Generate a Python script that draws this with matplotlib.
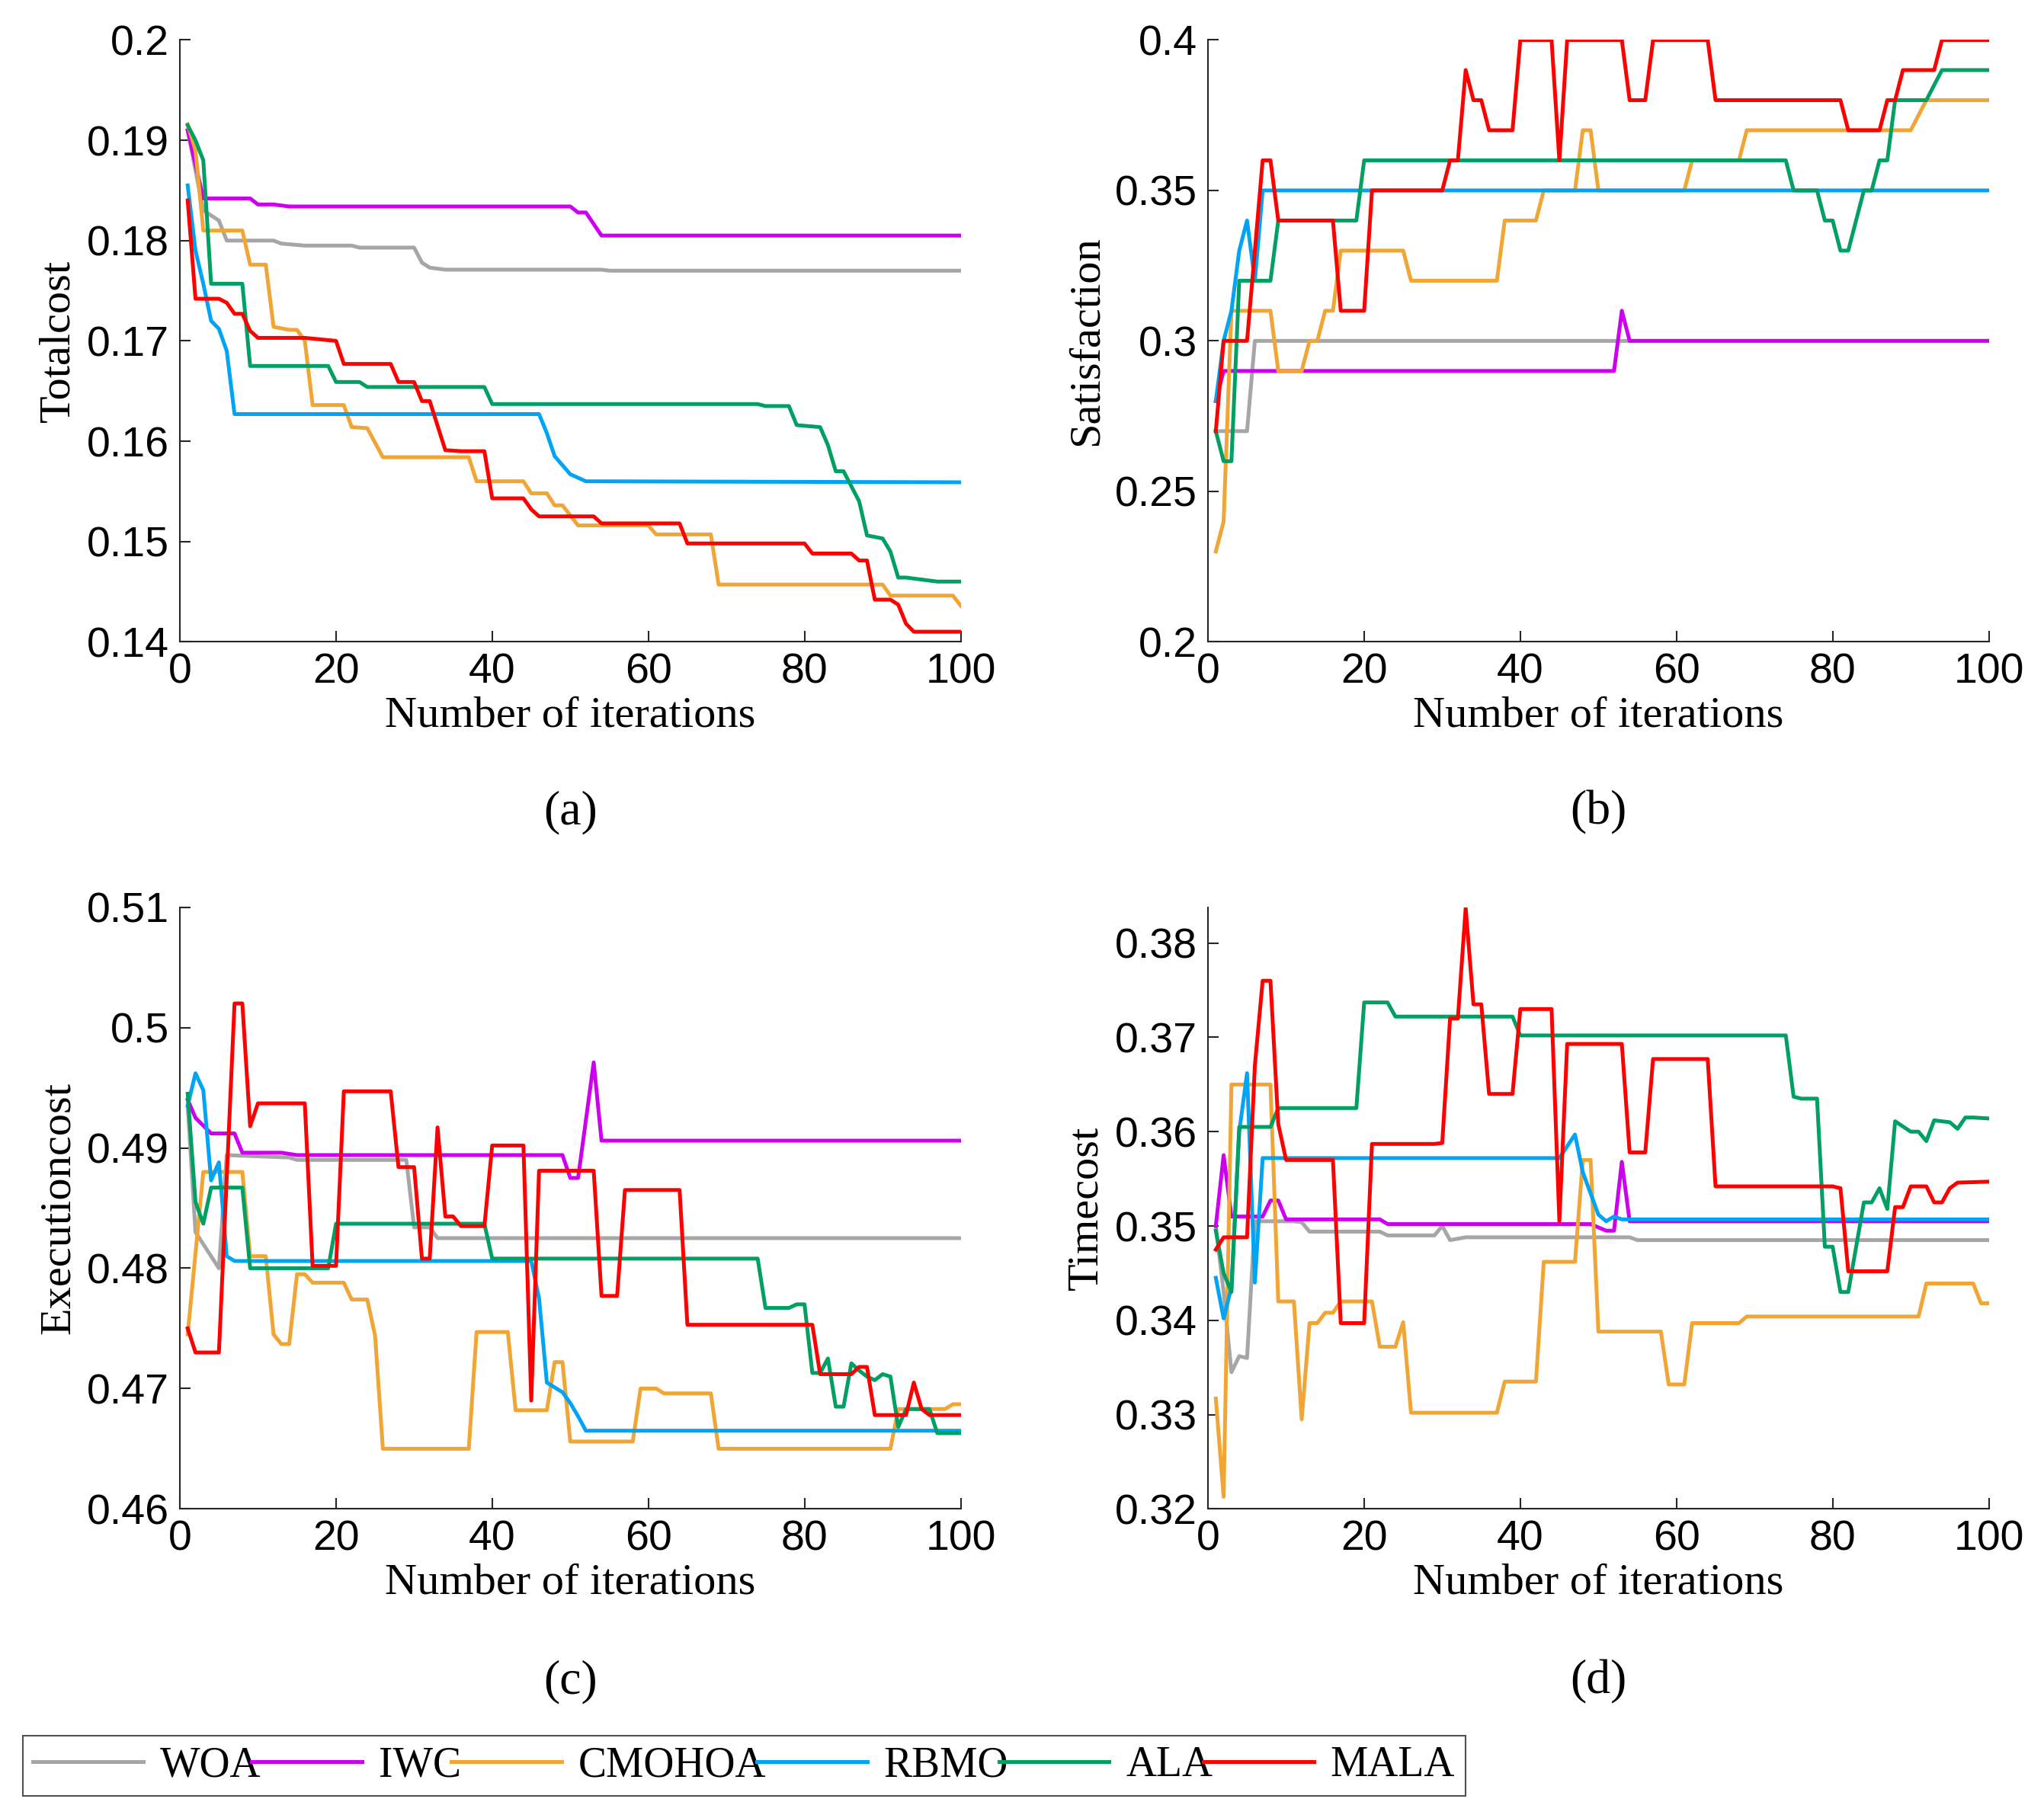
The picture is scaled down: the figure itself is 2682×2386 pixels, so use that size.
import matplotlib
matplotlib.use("Agg")
import matplotlib.pyplot as plt

names = ["WOA", "IWC", "CMOHOA", "RBMO", "ALA", "MALA"]
colors = ["#a6a6a8", "#cc00ee", "#f0a535", "#00a4f4", "#00a064", "#ff0000"]

# breakpoints (iteration, value)
cost = {
    "WOA": [(1, .191), (3, .183), (5, .182), (6, .180), (12, .180), (13, .1797), (16, .1795), (22, .1795), (23, .1793),
            (30, .1793), (31, .1778), (32, .1773), (34, .1771), (54, .1771), (55, .1770), (100, .1770)],
    "IWC": [(1, .191), (3, .1842), (9, .1842), (10, .1836), (12, .1836), (14, .1834), (50, .1834), (51, .1828),
            (52, .1828), (54, .1805), (100, .1805)],
    "CMOHOA": [(1, .1916), (2, .189), (3, .181), (8, .181), (9, .1776), (11, .1776), (12, .1714), (14, .1711),
               (15, .1711), (16, .1700), (17, .1636), (21, .1636), (22, .1614), (24, .1613), (26, .1584), (37, .1584),
               (38, .1560), (44, .1560), (45, .1548), (47, .1548), (48, .1536), (49, .1536), (51, .1516), (60, .1516),
               (61, .1507), (68, .1507), (69, .1457), (90, .1457), (91, .1446), (99, .1446), (100, .1436)],
    "RBMO": [(1, .1855), (2, .179), (3, .1757), (4, .172), (5, .1712), (6, .169), (7, .1627), (46, .1627),
             (47, .1608), (48, .1585), (50, .1567), (52, .1560), (100, .1559)],
    "ALA": [(1, .1915), (2, .190), (3, .188), (4, .1757), (8, .1757), (9, .1675), (19, .1675), (20, .1659),
            (23, .1659), (24, .1654), (39, .1654), (40, .1637), (74, .1637), (75, .1635), (78, .1635), (79, .1616),
            (82, .1614), (83, .1596), (84, .1570), (85, .1570), (87, .1540), (88, .1506), (90, .1503), (91, .1490),
            (92, .1464), (93, .1464), (97, .1460), (100, .1460)],
    "MALA": [(1, .184), (2, .1742), (5, .1742), (6, .1738), (7, .1727), (8, .1727), (9, .1710), (10, .1703),
             (16, .1703), (20, .1700), (21, .1677), (27, .1677), (28, .1659), (30, .1659), (31, .1640), (32, .1640),
             (34, .1591), (36, .1590), (39, .1590), (40, .1543), (44, .1543), (45, .1532), (46, .1525), (53, .1525),
             (54, .1518), (64, .1518), (65, .1498), (80, .1498), (81, .1488), (86, .1488), (87, .1481), (88, .1481),
             (89, .1442), (91, .1442), (92, .1437), (93, .1418), (94, .1410), (100, .1410)],
}

satisfaction = {
    "WOA": [(1, .27), (5, .27), (6, .30), (100, .30)],
    "IWC": [(1, .28), (2, .29), (52, .29), (53, .31), (54, .30), (100, .30)],
    "CMOHOA": [(1, .23), (2, .24), (3, .31), (8, .31), (9, .29), (12, .29), (13, .30), (14, .30), (15, .31),
               (16, .31), (17, .33), (25, .33), (26, .32), (37, .32), (38, .34), (42, .34), (43, .35), (47, .35),
               (48, .37), (49, .37), (50, .35), (61, .35), (62, .36), (68, .36), (69, .37), (90, .37), (92, .38),
               (100, .38)],
    "RBMO": [(1, .28), (2, .30), (3, .31), (4, .33), (5, .34), (6, .32), (7, .35), (100, .35)],
    "ALA": [(1, .27), (2, .26), (3, .26), (4, .32), (8, .32), (9, .34), (19, .34), (20, .36), (74, .36), (75, .35),
            (78, .35), (79, .34), (80, .34), (81, .33), (82, .33), (84, .35), (85, .35), (86, .36), (87, .36),
            (88, .38), (92, .38), (94, .39), (100, .39)],
    "MALA": [(1, .27), (2, .30), (5, .30), (7, .36), (8, .36), (9, .34), (16, .34), (17, .31), (20, .31), (21, .35),
             (30, .35), (31, .36), (32, .36), (33, .39), (34, .38), (35, .38), (36, .37), (39, .37), (40, .40),
             (44, .40), (45, .36), (46, .40), (53, .40), (54, .38), (56, .38), (57, .40), (64, .40), (65, .38),
             (81, .38), (82, .37), (86, .37), (87, .38), (88, .38), (89, .39), (93, .39), (94, .40), (100, .40)],
}

execution = {
    "WOA": [(1, .4935), (2, .483), (3, .482), (5, .4800), (6, .4894), (14, .4892), (15, .4890), (29, .4890),
            (30, .4834), (32, .4834), (33, .4825), (100, .4825)],
    "IWC": [(1, .494), (2, .4925), (4, .4912), (7, .4912), (8, .4896), (13, .4896), (15, .4894), (49, .4894),
            (50, .4875), (51, .4875), (53, .4971), (54, .4906), (100, .4906)],
    "CMOHOA": [(1, .4745), (3, .488), (8, .488), (9, .481), (11, .481), (12, .4745), (13, .4737), (14, .4737),
               (15, .4795), (16, .4795), (17, .4788), (21, .4788), (22, .4774), (24, .4774), (25, .4744),
               (26, .4650), (37, .4650), (38, .4747), (42, .4747), (43, .4682), (47, .4682), (48, .4722),
               (49, .4722), (50, .4656), (58, .4656), (59, .4700), (61, .4700), (62, .4696), (68, .4696),
               (69, .4650), (91, .4650), (92, .4683), (98, .4683), (99, .4687), (100, .4687)],
    "RBMO": [(1, .4935), (2, .4962), (3, .4948), (4, .4873), (5, .4888), (6, .4810), (7, .4806), (45, .4806),
             (46, .4775), (47, .4705), (49, .4697), (50, .4688), (51, .4677), (52, .4665), (100, .4665)],
    "ALA": [(1, .4945), (2, .4855), (3, .4837), (4, .4867), (8, .4867), (9, .4800), (19, .4800), (20, .4837),
            (39, .4837), (40, .4808), (74, .4808), (75, .4767), (78, .4767), (79, .4770), (80, .4770), (81, .4713),
            (82, .4713), (83, .4725), (84, .4685), (85, .4685), (86, .4721), (87, .4715), (88, .4710), (89, .4707),
            (90, .4712), (91, .4710), (92, .4668), (93, .4683), (96, .4683), (97, .4663), (100, .4663)],
    "MALA": [(1, .4750), (2, .4730), (5, .4730), (7, .5020), (8, .5020), (9, .4918), (10, .4937), (16, .4937),
             (17, .4802), (20, .4802), (21, .4947), (27, .4947), (28, .4884), (30, .4884), (31, .4808), (32, .4808),
             (33, .4917), (34, .4843), (35, .4843), (36, .4835), (39, .4835), (40, .4902), (44, .4902), (45, .4690),
             (46, .4881), (53, .4881), (54, .4777), (56, .4777), (57, .4865), (64, .4865), (65, .4753), (81, .4753),
             (82, .4712), (86, .4712), (87, .4718), (88, .4718), (89, .4678), (93, .4678), (94, .4705), (95, .4683),
             (96, .4678), (100, .4678)],
}

timecost = {
    "WOA": [(1, .350), (2, .343), (3, .3345), (4, .3362), (5, .3360), (6, .3505), (11, .3505), (12, .3504),
            (13, .3494), (22, .3494), (23, .3490), (29, .3490), (30, .3500), (31, .3485), (33, .3488), (54, .3488),
            (55, .3485), (100, .3485)],
    "IWC": [(1, .3500), (2, .3575), (3, .3510), (7, .3510), (8, .3527), (9, .3527), (10, .3507), (22, .3507),
            (23, .3502), (49, .3502), (51, .3495), (52, .3495), (53, .3568), (54, .3505), (100, .3505)],
    "CMOHOA": [(1, .3317), (2, .3213), (3, .3650), (8, .3650), (9, .3420), (11, .3420), (12, .3295), (13, .3397),
               (14, .3397), (15, .3408), (16, .3408), (17, .3420), (21, .3420), (22, .3372), (24, .3372),
               (25, .3398), (26, .3302), (37, .3302), (38, .3335), (42, .3335), (43, .3462), (47, .3462),
               (48, .3570), (49, .3570), (50, .3388), (58, .3388), (59, .3332), (61, .3332), (62, .3397),
               (68, .3397), (69, .3404), (91, .3404), (92, .3439), (98, .3439), (99, .3418), (100, .3418)],
    "RBMO": [(1, .3445), (2, .3402), (3, .3435), (4, .3600), (5, .3662), (6, .3440), (7, .3572), (45, .3572),
             (47, .3597), (48, .3557), (50, .3512), (51, .3505), (52, .3510), (53, .3507), (100, .3507)],
    "ALA": [(1, .3495), (2, .3450), (3, .3430), (4, .3605), (8, .3605), (9, .3625), (19, .3625), (20, .3737),
            (23, .3737), (24, .3722), (39, .3722), (40, .3702), (74, .3702), (75, .3637), (76, .3635), (78, .3635),
            (79, .3478), (80, .3478), (81, .3430), (82, .3430), (84, .3525), (85, .3525), (86, .3540), (87, .3518),
            (88, .3611), (90, .3600), (91, .3600), (92, .3590), (93, .3612), (95, .3610), (96, .3603), (97, .3615),
            (98, .3615), (100, .3614)],
    "MALA": [(1, .3475), (2, .3488), (5, .3488), (6, .3670), (7, .3760), (8, .3760), (9, .3608), (10, .3570),
             (16, .3570), (17, .3397), (20, .3397), (21, .3587), (29, .3587), (30, .3588), (31, .3720), (32, .3720),
             (33, .3837), (34, .3735), (35, .3735), (36, .3640), (39, .3640), (40, .3730), (44, .3730), (45, .3505),
             (46, .3693), (53, .3693), (54, .3578), (56, .3578), (57, .3677), (64, .3677), (65, .3542), (80, .3542),
             (81, .3540), (82, .3452), (87, .3452), (88, .3520), (89, .3520), (90, .3542), (92, .3542), (93, .3525),
             (94, .3525), (95, .3540), (96, .3546), (100, .3547)],
}

panels = [
    (cost, "Totalcost", "(a)", (0.14, 0.2), [0.14, 0.15, 0.16, 0.17, 0.18, 0.19, 0.2]),
    (satisfaction, "Satisfaction", "(b)", (0.2, 0.4), [0.2, 0.25, 0.3, 0.35, 0.4]),
    (execution, "Executioncost", "(c)", (0.46, 0.51), [0.46, 0.47, 0.48, 0.49, 0.5, 0.51]),
    (timecost, "Timecost", "(d)", (0.32, 0.3838), [0.32, 0.33, 0.34, 0.35, 0.36, 0.37, 0.38]),
]
positions = [(0.088, 0.647), (0.591, 0.647), (0.088, 0.170), (0.591, 0.170)]
tag_y = [0.553, 0.553, 0.075, 0.075]

serif = "Liberation Serif"
sans = "Liberation Sans"

fig = plt.figure(figsize=(26.82, 23.86), dpi=100)
handles = []
for i, (data, ylabel, tag, ylim, yticks) in enumerate(panels):
    left, bottom = positions[i]
    ax = fig.add_axes([left, bottom, 0.382, 0.331])
    for name, color in zip(names, colors):
        xs = [p[0] for p in data[name]]
        ys = [p[1] for p in data[name]]
        line, = ax.plot(xs, ys, color=color, linewidth=3.6, label=name)
        if i == 0:
            handles.append(line)
    ax.set_xlim(0, 100)
    ax.set_ylim(*ylim)
    ax.set_xticks([0, 20, 40, 60, 80, 100])
    ax.set_yticks(yticks)
    ax.set_yticklabels([f"{t:g}" for t in yticks])
    for s in ["top", "right"]:
        ax.spines[s].set_visible(False)
    for s in ["left", "bottom"]:
        ax.spines[s].set_color("#262626")
        ax.spines[s].set_linewidth(1.5)
    ax.tick_params(direction="in", length=10, width=1.5, labelsize=40, pad=10, colors="#262626")
    for lab in ax.get_xticklabels() + ax.get_yticklabels():
        lab.set_fontfamily(sans)
        lab.set_color("black")
    ax.set_xlabel("Number of iterations", fontsize=42, fontfamily=serif, labelpad=4)
    ax.set_ylabel(ylabel, fontsize=42, fontfamily=serif, labelpad=8)
    fig.text(left + 0.191, tag_y[i], tag, fontsize=46, fontfamily=serif, ha="center", va="center")

leg = fig.legend(handles=handles, loc="lower left", bbox_to_anchor=(0.011, 0.012, 0.706, 0.036),
                 mode="expand", ncol=6, frameon=True, fancybox=False, edgecolor="#262626",
                 prop={"family": serif, "size": 40}, handlelength=2.6, handletextpad=0.4,
                 borderaxespad=0, borderpad=0.25, columnspacing=0.8)
leg.get_frame().set_linewidth(1.5)

fig.savefig("out.png", dpi=100)
plt.close(fig)
